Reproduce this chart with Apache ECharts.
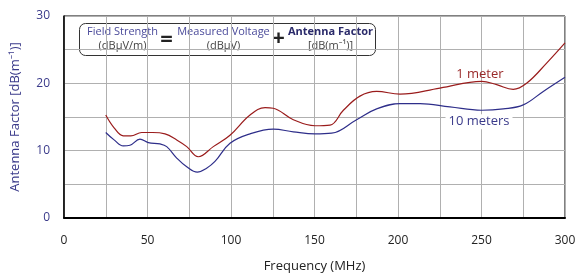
<!DOCTYPE html>
<html><head><meta charset="utf-8">
<script src="https://cdn.jsdelivr.net/npm/echarts@6/dist/echarts.min.js"></script>
<style>html,body{margin:0;padding:0;background:#fff}#c{width:578px;height:274px}</style>
</head><body><div id="c"></div>
<script>
const xTickLabels = [0, 50, 100, 150, 200, 250, 300];
const yTickLabels = [0, 10, 20, 30];
const oneMeter = [[25,15.3],[30,13.4],[35.5,12.2],[40,12.2],[46.5,12.7],[53,12.7],[60.5,12.5],[67.5,11.6],[73.5,10.6],[80.4,9.1],[89.4,10.6],[99.4,12.3],[111.4,15.3],[120.4,16.4],[125.3,16.3],[137.3,14.6],[150.3,13.7],[159.3,13.8],[167.3,16.0],[177.2,18.1],[187.2,18.8],[201.2,18.4],[225.1,19.3],[250.1,20.3],[259.1,19.8],[269,19.1],[277,20.0],[289,23.0],[300,26.0]];
const tenMeters = [[25,12.7],[30,11.6],[35.5,10.7],[39.5,10.8],[45.5,11.7],[50.5,11.2],[57.5,11.0],[61.5,10.6],[67.5,8.9],[73.5,7.6],[79.8,6.8],[85.4,7.4],[90.4,8.4],[99.4,11.1],[111.4,12.5],[125.3,13.2],[137.3,12.8],[150.3,12.5],[160.3,12.6],[175.2,14.6],[187.2,16.2],[201.2,17.0],[213.2,17.0],[231.1,16.5],[250.1,16.0],[263,16.2],[275,16.8],[287,18.8],[300,20.9]];
const labels = {one: {name: '1 meter', at: [249, 21.4]}, ten: {name: '10 meters', at: [248.5, 14.3]}};

const FONT = '"Open Sans", "Noto Sans", sans-serif';
const chart = echarts.init(document.getElementById('c'));
chart.setOption({
  animation: false,
  grid: {left: 64, right: 13, top: 16, bottom: 56, show: true, borderColor: '#000', borderWidth: 1, outerBoundsMode: 'none', containLabel: false},
  xAxis: {
    type: 'value', min: 0, max: 300, interval: 25,
    name: 'Frequency (MHz)', nameLocation: 'middle', nameGap: 42,
    nameTextStyle: {fontFamily: FONT, fontSize: 13, color: '#222'},
    axisLine: {show: true, lineStyle: {color: '#000', width: 2}},
    axisTick: {show: false},
    splitLine: {show: true, lineStyle: {color: '#b0b0b0', width: 1}},
    axisLabel: {margin: 17, fontFamily: FONT, fontSize: 12, color: '#222',
      formatter: v => xTickLabels.includes(v) ? String(v) : ''}
  },
  yAxis: {
    type: 'value', min: 0, max: 30, interval: 5,
    name: 'Antenna Factor [dB(m\u207B\u00B9)]', nameLocation: 'middle', nameGap: 42,
    nameTextStyle: {fontFamily: FONT, fontSize: 13, color: '#3a3a8a'},
    axisLine: {show: true, lineStyle: {color: '#000', width: 1.5}},
    axisTick: {show: false},
    splitLine: {show: true, lineStyle: {color: '#b0b0b0', width: 1}},
    axisLabel: {margin: 14, fontFamily: FONT, fontSize: 12, color: '#3a3a8a',
      formatter: v => yTickLabels.includes(v) ? String(v) : ''}
  },
  series: [
    {type: 'line', name: labels.one.name, data: oneMeter, smooth: 0.4, symbol: 'none',
      lineStyle: {color: '#9a1c1c', width: 1.2},
      markPoint: {symbol: 'rect', symbolSize: 0, data: [{coord: labels.one.at}],
        label: {show: true, position: 'inside', formatter: labels.one.name, color: '#9a2a2a', fontFamily: FONT, fontSize: 13}}},
    {type: 'line', name: labels.ten.name, data: tenMeters, smooth: 0.4, symbol: 'none',
      lineStyle: {color: '#2e2e8a', width: 1.2},
      markPoint: {symbol: 'rect', symbolSize: 0, data: [{coord: labels.ten.at}],
        label: {show: true, position: 'inside', formatter: labels.ten.name, color: '#3a3a8a', fontFamily: FONT, fontSize: 13,
          backgroundColor: '#fff', padding: [1, 3]}}}
  ],
  graphic: [{
    type: 'group', left: 79, top: 23,
    children: [
      {type: 'rect', shape: {x: 0, y: 0, width: 296, height: 32, r: 6}, style: {fill: '#fff', stroke: '#333', lineWidth: 1}},
      {type: 'text', x: 43, y: 3, style: {text: 'Field Strength', align: 'center', fill: '#4a4a9a', font: '11px ' + FONT}},
      {type: 'text', x: 43, y: 17, style: {text: '(dB\u00B5V/m)', align: 'center', fill: '#444', font: '11px ' + FONT}},
      {type: 'text', x: 87, y: 5, style: {text: '=', align: 'center', fill: '#222', font: 'bold 22px ' + FONT}},
      {type: 'text', x: 144, y: 3, style: {text: 'Measured Voltage', align: 'center', fill: '#4a4a9a', font: '11px ' + FONT}},
      {type: 'text', x: 144, y: 17, style: {text: '(dB\u00B5V)', align: 'center', fill: '#444', font: '11px ' + FONT}},
      {type: 'text', x: 199, y: 4, style: {text: '+', align: 'center', fill: '#222', font: 'bold 22px ' + FONT}},
      {type: 'text', x: 251, y: 3, style: {text: 'Antenna Factor', align: 'center', fill: '#2a2a6a', font: 'bold 11px ' + FONT}},
      {type: 'text', x: 251, y: 17, style: {text: '[dB(m\u207B\u00B9)]', align: 'center', fill: '#444', font: '11px ' + FONT}}
    ]
  }]
});
</script></body></html>
